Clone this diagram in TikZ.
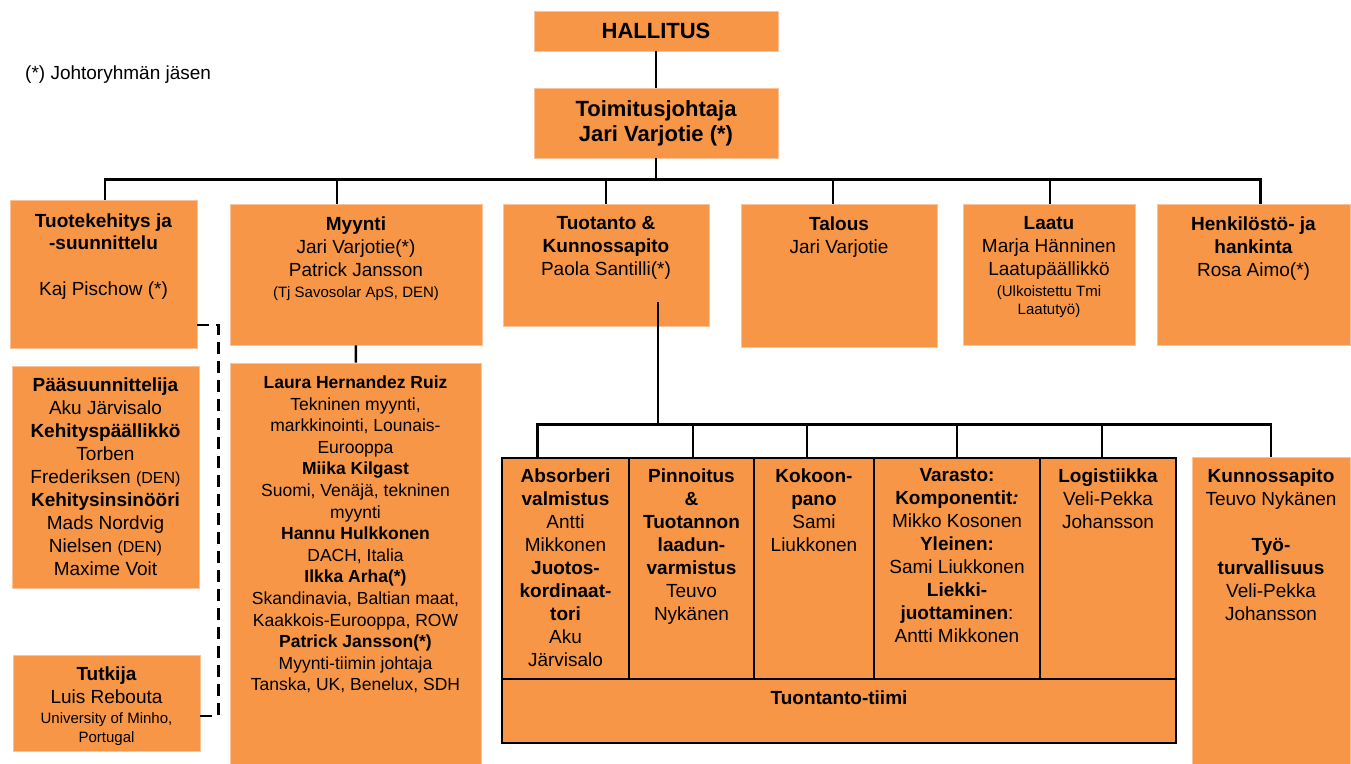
\documentclass[tikz,border=0pt]{standalone}
\usepackage{fontspec}
\setmainfont{Liberation Sans}
\usetikzlibrary{positioning}

\definecolor{orgfill}{HTML}{F79646}
\definecolor{orgedge}{HTML}{FAC29A}
\newcommand{\boxfont}{\fontsize{19}{23}\selectfont}
\newcommand{\smallfont}{\fontsize{15}{18}\selectfont}
\newcommand{\denfont}{\fontsize{16}{20}\selectfont}
\newcommand{\salesfont}{\fontsize{17.5}{21.6}\selectfont}
\newcommand{\topfont}{\fontsize{22}{26}\selectfont\bfseries}

\begin{document}
\begin{tikzpicture}
        [x=1pt,y=-1pt,
         orgbox/.style={draw=orgedge,fill=orgfill,line width=0.8pt,inner sep=0},
         prodbox/.style={draw=black,fill=orgfill,line width=1.6pt,inner sep=0},
         boxsize/.style 2 args={minimum width=#1,minimum height=#2},
         boxtext/.style={align=center,inner sep=0,anchor=north,font=\boxfont},
         conn/.style={draw=black,line width=2.6pt},
         dashline/.style={draw=black,line width=2.6pt,dash pattern=on 12pt off 7pt}]

        \useasboundingbox (0,0) rectangle (1351,763);

        \node[orgbox,boxsize={244}{40},font=\topfont] (hal) at (656,31) {HALLITUS};
        \node[orgbox,boxsize={244}{70},font=\topfont,align=center] (tj) at (656,123) {Toimitusjohtaja\\[-1pt]Jari Varjotie (*)};
        \node[anchor=west,inner sep=0,font=\fontsize{19}{22}\selectfont] (legend) at (25,75) {(*) Johtoryhmän jäsen};

        \node[orgbox,boxsize={187}{148}] (tk) at (103.5,274) {};
        \node[orgbox,boxsize={252}{141}] (myy) at (356,274.5) {};
        \node[orgbox,boxsize={206}{122}] (tuo) at (606,265) {};
        \node[orgbox,boxsize={196}{143}] (tal) at (839,275.5) {};
        \node[orgbox,boxsize={172}{141}] (laa) at (1049,274.5) {};
        \node[orgbox,boxsize={193}{141}] (hen) at (1253.5,274.5) {};

        \node[orgbox,boxsize={187}{222}] (paa) at (105.5,477) {};
        \node[orgbox,boxsize={187}{96}] (tut) at (106.5,703) {};
        \node[orgbox,boxsize={251}{404}] (mys) at (355.5,565) {};

        \node[prodbox,boxsize={127}{221}] (abs) at (565.5,568.5) {};
        \node[prodbox,boxsize={125}{221}] (pin) at (691.5,568.5) {};
        \node[prodbox,boxsize={120}{221}] (kok) at (814,568.5) {};
        \node[prodbox,boxsize={166}{221}] (var) at (957,568.5) {};
        \node[prodbox,boxsize={136}{221}] (log) at (1108,568.5) {};
        \node[prodbox,boxsize={674}{64}] (tii) at (839,711) {};
        \node[orgbox,boxsize={158}{310}] (kun) at (1271,612) {};

        \node[boxtext,below=14pt of tk.north] (tk-t) {\textbf{Tuotekehitys ja}\\[-1pt]\textbf{-suunnittelu}\\[23pt]Kaj Pischow (*)};
        \node[boxtext,below=13pt of myy.north] (myy-t) {\textbf{Myynti}\\Jari Varjotie(*)\\Patrick Jansson\\[-2pt]{\smallfont (Tj Savosolar ApS, DEN)}};
        \node[boxtext,below=13pt of tuo.north] (tuo-t) {\textbf{Tuotanto \&}\\\textbf{Kunnossapito}\\Paola Santilli(*)};
        \node[boxtext,below=13pt of tal.north] (tal-t) {\textbf{Talous}\\Jari Varjotie};
        \node[boxtext,below=13pt of laa.north] (laa-t) {\textbf{Laatu}\\Marja Hänninen\\Laatupäällikkö\\[-2pt]{\smallfont (Ulkoistettu Tmi}\\[-5pt]{\smallfont Laatutyö)}};
        \node[boxtext,below=13pt of hen.north] (hen-t) {\textbf{Henkilöstö- ja}\\\textbf{hankinta}\\Rosa Aimo(*)};

        \node[boxtext,below=12pt of paa.north] (paa-t) {\textbf{Pääsuunnittelija}\\Aku Järvisalo\\\textbf{Kehityspäällikkö}\\Torben\\Frederiksen {\denfont(DEN)}\\\textbf{Kehitysinsinööri}\\Mads Nordvig\\Nielsen {\denfont(DEN)}\\Maxime Voit};
        \node[boxtext,below=12pt of tut.north] (tut-t) {\textbf{Tutkija}\\Luis Rebouta\\[-3pt]{\smallfont University of Minho,}\\[-4pt]{\smallfont Portugal}};
        \node[boxtext,below=13pt of mys.north,font=\salesfont] (mys-t) {\textbf{Laura Hernandez Ruiz}\\Tekninen myynti,\\markkinointi, Lounais-\\Eurooppa\\\textbf{Miika Kilgast}\\Suomi, Venäjä, tekninen\\myynti\\\textbf{Hannu Hulkkonen}\\DACH, Italia\\\textbf{Ilkka Arha(*)}\\Skandinavia, Baltian maat,\\Kaakkois-Eurooppa, ROW\\\textbf{Patrick Jansson(*)}\\Myynti-tiimin johtaja\\Tanska, UK, Benelux, SDH};

        \node[boxtext,below=11pt of abs.north] (abs-t) {\textbf{Absorberi}\\\textbf{valmistus}\\Antti\\Mikkonen\\\textbf{Juotos-}\\\textbf{kordinaat-}\\\textbf{tori}\\Aku\\Järvisalo};
        \node[boxtext,below=11pt of pin.north] (pin-t) {\textbf{Pinnoitus}\\\textbf{\&}\\\textbf{Tuotannon}\\\textbf{laadun-}\\\textbf{varmistus}\\Teuvo\\Nykänen};
        \node[boxtext,below=11pt of kok.north] (kok-t) {\textbf{Kokoon-}\\\textbf{pano}\\Sami\\Liukkonen};
        \node[boxtext,below=11pt of var.north] (var-t) {\textbf{Varasto:}\\\textbf{Komponentit\textit{:}}\\Mikko Kosonen\\\textbf{Yleinen:}\\Sami Liukkonen\\\textbf{Liekki-}\\\textbf{juottaminen}:\\Antti Mikkonen};
        \node[boxtext,below=11pt of log.north] (log-t) {\textbf{Logistiikka}\\Veli-Pekka\\Johansson};
        \node[boxtext,below=12pt of tii.north] (tii-t) {\textbf{Tuontanto-tiimi}};
        \node[boxtext,below=12pt of kun.north] (kun-t) {\textbf{Kunnossapito}\\Teuvo Nykänen\\[23pt]\textbf{Työ-}\\\textbf{turvallisuus}\\Veli-Pekka\\Johansson};

        \draw[conn] (hal) -- (tj);
        \draw[conn] (tj) -- ++(0,57);
        \draw[conn] ([xshift=1.5pt]tk.north) -- ++(0,-20) -| ([xshift=7pt]hen.north);
        \foreach \n/\dx in {myy/-19,tuo/0,tal/-6,laa/1}
          \draw[conn] ([xshift=\dx pt]\n.north) -- ++(0,-24);
        \draw[conn] (myy) -- (mys);
        \draw[dashline] ([yshift=-51pt]tk.east) -- ++(21,0) |- ([yshift=-13pt]tut.east);

        \draw[conn] ([xshift=52pt,yshift=24pt]tuo.south) -- ++(0,123);
        \draw[conn] ([xshift=-28pt]abs.north) -- ++(0,-33) -| (kun.north);
        \foreach \n/\dx in {pin/1.5,kok/-7,var/0,log/-6}
          \draw[conn] ([xshift=\dx pt]\n.north) -- ++(0,-33);
      \end{tikzpicture}
\end{document}
